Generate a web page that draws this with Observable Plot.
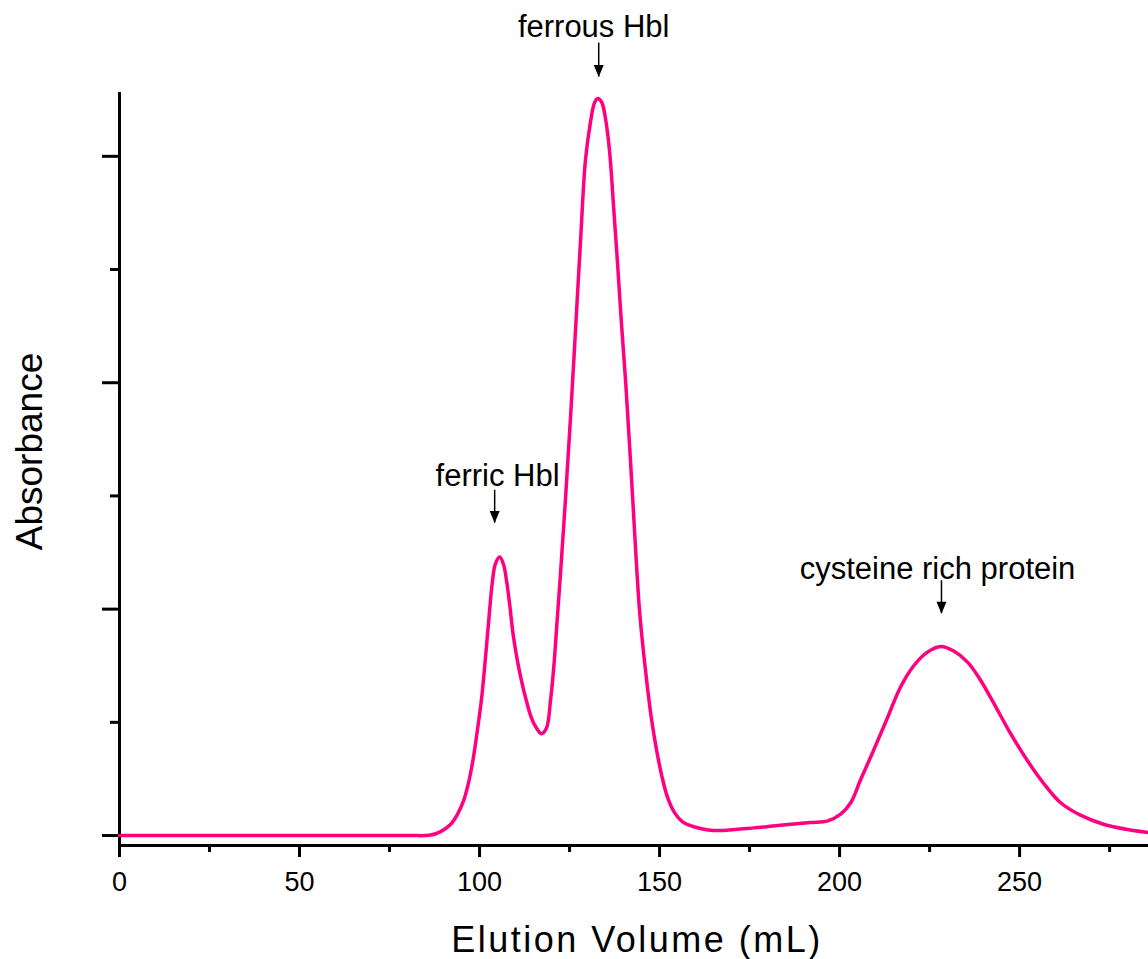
<!DOCTYPE html>
<html>
<head>
<meta charset="utf-8">
<script src="https://cdn.jsdelivr.net/npm/d3@7"></script>
<script src="https://cdn.jsdelivr.net/npm/@observablehq/plot@0.6"></script>
<style>
  html, body { margin: 0; padding: 0; background: #fff; }
  svg { display: block; }
</style>
</head>
<body>
<div id="chart"></div>
<script>
// Elution volume (mL) and absorbance (arbitrary units, one unit per minor y tick)
const volume = [0, 40, 80, 86.4, 89.2, 91.9, 93.9, 95.6, 96.9, 98.3,
  99.4, 100.6, 101.7, 102.8, 103.6, 104.4, 105.6, 106.7, 107.5, 108.3,
  109.4, 110.6, 111.7, 113.1, 114.4, 115.8, 117.2, 118.6, 119.7, 120.6,
  121.4, 122.5, 123.9, 125.3, 126.7, 128.1, 129.4, 130.8, 131.9, 132.8,
  133.9, 135.0, 136.1, 137.2, 138.3, 139.4, 140.6, 141.7, 142.8, 143.6,
  144.4, 145.6, 146.7, 147.8, 149.2, 150.6, 152.2, 154.2, 156.4, 158.6,
  161.4, 165.0, 173.3, 182.8, 191.9, 196.7, 200.3, 203.1, 205.8, 209.4,
  213.3, 216.9, 220.6, 224.4, 228.1, 231.7, 235.6, 239.2, 242.8, 247.5,
  252.2, 256.7, 261.4, 266.9, 273.3, 280.0, 285.8];
const absorbance = [0, 0, 0, 0.004, 0.035, 0.097, 0.19, 0.31, 0.46, 0.69,
  0.93, 1.22, 1.59, 1.99, 2.25, 2.40, 2.46, 2.39, 2.25, 2.06,
  1.76, 1.53, 1.36, 1.18, 1.04, 0.95, 0.90, 0.95, 1.19, 1.48,
  1.83, 2.32, 2.99, 3.71, 4.49, 5.28, 5.96, 6.30, 6.47, 6.51,
  6.48, 6.33, 6.05, 5.57, 5.07, 4.53, 4.00, 3.43, 2.83, 2.39,
  2.00, 1.60, 1.29, 1.02, 0.75, 0.53, 0.34, 0.20, 0.12, 0.088,
  0.062, 0.044, 0.06, 0.088, 0.115, 0.13, 0.19, 0.29, 0.49, 0.75,
  1.04, 1.31, 1.50, 1.62, 1.67, 1.63, 1.53, 1.37, 1.17, 0.90,
  0.66, 0.46, 0.29, 0.18, 0.10, 0.053, 0.027];

// Axis ticks
const xMajorTicks = [0, 50, 100, 150, 200, 250];
const xMinorTicks = [25, 75, 125, 175, 225, 275];
const yMajorTicks = [0, 2, 4, 6];
const yMinorTicks = [1, 3, 5];
const xDomain = [0, 285.8];
const yDomain = [-0.088, 6.555];

// Peak annotations
const annLabel = ["ferric Hbl", "ferrous Hbl", "cysteine rich protein"];
const annTextX = [105.0, 131.7, 227.2];
const annTextY = [3.09, 7.05, 2.27];
const annArrowX = [104.2, 133.1, 228.3];
const annArrowTop = [3.05, 7.00, 2.25];
const annArrowTip = [2.76, 6.70, 1.96];

const xLabel = "Elution Volume (mL)";
const yLabel = "Absorbance";

const curve = volume.map((v, i) => ({volume: v, absorbance: absorbance[i]}));
const ann = annLabel.map((l, i) => ({
  label: l, tx: annTextX[i], ty: annTextY[i],
  ax: annArrowX[i], top: annArrowTop[i], tip: annArrowTip[i]
}));

// Narrow filled arrowhead with its tip at the anchor point, pointing down
const arrowHead = {
  draw(context) {
    context.moveTo(-5, -12);
    context.lineTo(5, -12);
    context.lineTo(0, 0);
    context.closePath();
  }
};

const font = "'Liberation Sans', Arial, sans-serif";

const plot = Plot.plot({
  width: 1148,
  height: 959,
  marginLeft: 119,
  marginRight: 0,
  marginTop: 93,
  marginBottom: 114,
  style: {fontFamily: font, background: "#fff", color: "#000", overflow: "visible"},
  x: {domain: xDomain, axis: null},
  y: {domain: yDomain, axis: null},
  marks: [
    Plot.frame({anchor: "bottom", stroke: "#000", strokeWidth: 3}),
    Plot.frame({anchor: "left", stroke: "#000", strokeWidth: 3}),
    Plot.axisX(xMajorTicks, {tickSize: 12, tickPadding: 14, strokeWidth: 3, fontSize: 27, label: null, tickFormat: d => String(d)}),
    Plot.axisX(xMinorTicks, {tickSize: 7, strokeWidth: 3, label: null, tickFormat: () => ""}),
    Plot.axisY(yMajorTicks, {tickSize: 17, strokeWidth: 3, label: null, tickFormat: () => ""}),
    Plot.axisY(yMinorTicks, {tickSize: 9, strokeWidth: 3, label: null, tickFormat: () => ""}),
    Plot.line(curve, {x: "volume", y: "absorbance", stroke: "#FF0080", strokeWidth: 3.5, curve: "catmull-rom"}),
    Plot.ruleX(ann, {x: "ax", y1: "top", y2: "tip", stroke: "#000", strokeWidth: 1.5}),
    Plot.dot(ann, {x: "ax", y: "tip", symbol: arrowHead, r: 5, fill: "#000", stroke: null}),
    Plot.text(ann, {x: "tx", y: "ty", text: "label", fontSize: 31, lineAnchor: "bottom", fill: "#000"}),
    Plot.text([xLabel], {frameAnchor: "bottom", textAnchor: "middle", lineAnchor: "middle", dx: 3, dy: 95, fontSize: 36, fill: "#000"}),
    Plot.text([yLabel], {frameAnchor: "left", textAnchor: "middle", lineAnchor: "middle", rotate: -90, dx: -89, dy: -18, fontSize: 37, fill: "#000"})
  ]
});

d3.select(plot).selectAll("text").filter(function() { return this.textContent === xLabel; })
  .style("letter-spacing", "2.5px");

document.getElementById("chart").appendChild(plot);
</script>
</body>
</html>
